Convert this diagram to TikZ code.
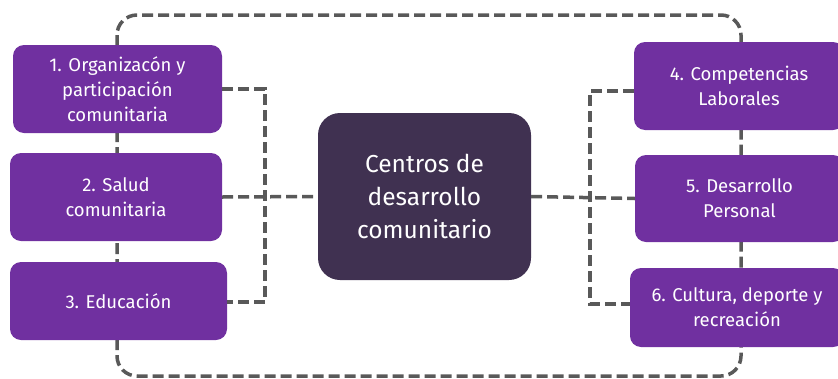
\documentclass[tikz,border=0pt]{standalone}
\usepackage{fontspec}
\setmainfont{Fira Sans}
\definecolor{boxpurple}{HTML}{7030A0}
\definecolor{centerpurple}{HTML}{403151}
\definecolor{dashgray}{HTML}{595959}
\begin{document}
\begin{tikzpicture}[x=1pt,y=-1pt,
  item/.style={fill=boxpurple, rounded corners=11pt, text=white, align=center, font=\fontsize{18.5}{25}\selectfont, inner sep=0pt},
  hub/.style={fill=centerpurple, rounded corners=22pt, text=white, align=center, font=\fontsize{24.5}{33}\selectfont, inner sep=0pt},
  link/.style={draw=dashgray, line width=3.5pt, dash pattern=on 11pt off 5pt}]
\useasboundingbox (0,0) rectangle (838,378);
% frame
\draw[link, rounded corners=20pt] (117,15) rectangle (741,376);
% coordinates for connectors
\coordinate (lt) at (265,89);
\coordinate (lb) at (265,302);
\coordinate (rt) at (590,91);
\coordinate (rb) at (590,304);
% nodes
\node[item, minimum width=209pt, minimum height=88pt] (b1) at (117.5,89) {1. Organizacón y\\participación\\comunitaria};
\node[item, minimum width=212pt, minimum height=88pt] (b2) at (116,197) {2. Salud\\comunitaria};
\node[item, minimum width=217pt, minimum height=78pt] (b3) at (118.5,301) {3. Educación};
\node[hub, minimum width=213pt, minimum height=167pt] (c) at (424.5,196.5) {Centros de\\desarrollo\\comunitario};
\node[item, minimum width=210pt, minimum height=88pt] (b4) at (739,86) {4. Competencias\\Laborales};
\node[item, minimum width=209pt, minimum height=87pt] (b5) at (739.5,198.5) {5. Desarrollo\\Personal};
\node[item, minimum width=214pt, minimum height=79pt] (b6) at (737,307.5) {6. Cultura, deporte y\\recreación};
% connectors
\draw[link] (b1.east |- lt) -- (lt) -- (lb) -- (b3.east |- lb);
\draw[link] (b2.east) -- (c.west);
\draw[link] (b4.west |- rt) -- (rt) -- (rb) -- (b6.west |- rb);
\draw[link] (c.east) -- (b5.west);
\end{tikzpicture}
\end{document}
